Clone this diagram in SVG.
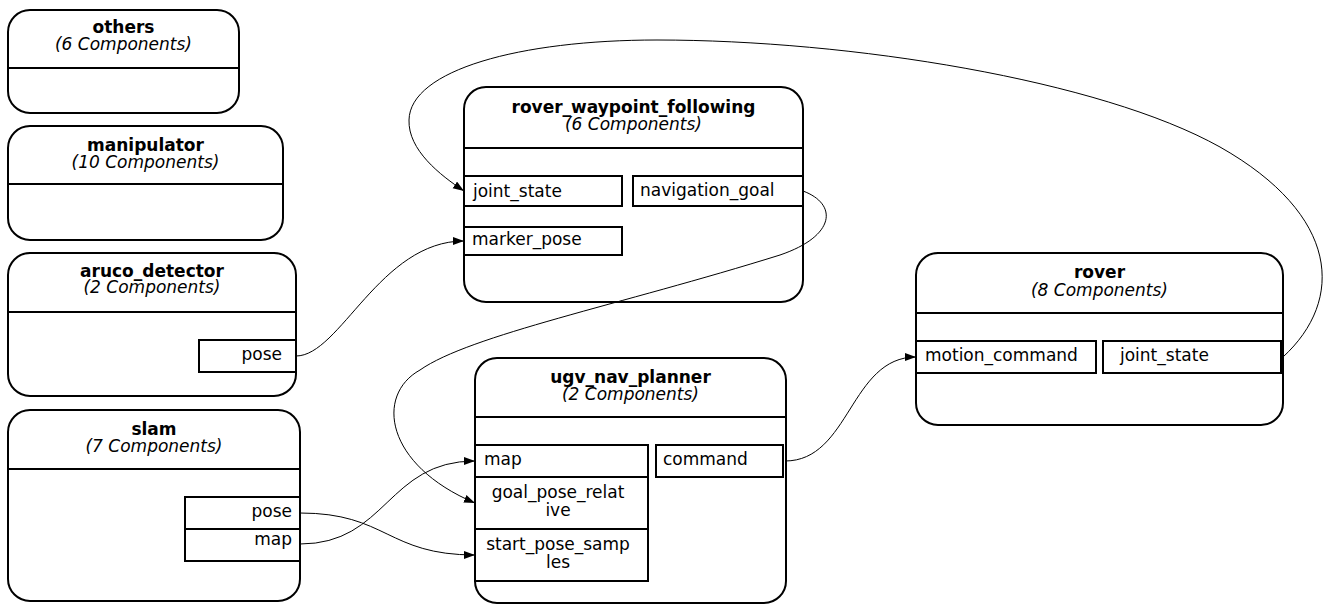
<svg xmlns="http://www.w3.org/2000/svg" width="1324" height="604" viewBox="0 0 1324 604">
  <style>
    .node { fill: #ffffff; stroke: #000000; stroke-width: 2; }
    .rule { stroke: #000000; stroke-width: 2; fill: none; }
    .port { fill: #ffffff; stroke: #000000; stroke-width: 2; }
    text { font-family: "DejaVu Sans", "Liberation Sans", sans-serif; font-size: 17px; fill: #000000; }
    .title { font-weight: bold; text-anchor: middle; }
    .sub { font-style: italic; text-anchor: middle; }
    .r { text-anchor: end; }
    .m { text-anchor: middle; }
    .edge { fill: none; stroke: #000000; stroke-width: 1; marker-end: url(#arrow); }
  </style>
  <defs>
    <marker id="arrow" markerUnits="userSpaceOnUse" markerWidth="12" markerHeight="9" refX="11" refY="4" orient="auto">
      <path d="M0,0 L11,4 L0,8 z" fill="#000000"/>
    </marker>
  </defs>
  <rect width="1324" height="604" fill="#ffffff"/>

  <g id="others">
    <rect class="node" x="8" y="10" width="231" height="103" rx="22"/>
    <line class="rule" x1="8" y1="68" x2="239" y2="68"/>
    <text class="title" x="123.5" y="33">others</text>
    <text class="sub" x="123.5" y="50">(6 Components)</text>
  </g>

  <g id="manipulator">
    <rect class="node" x="8" y="126" width="275" height="114" rx="22"/>
    <line class="rule" x1="8" y1="184" x2="283" y2="184"/>
    <text class="title" x="145.5" y="151">manipulator</text>
    <text class="sub" x="145.5" y="168">(10 Components)</text>
  </g>

  <g id="aruco_detector">
    <rect class="node" x="8" y="253" width="288" height="143" rx="22"/>
    <line class="rule" x1="8" y1="312" x2="296" y2="312"/>
    <text class="title" x="152" y="277">aruco_detector</text>
    <text class="sub" x="152" y="293">(2 Components)</text>
    <rect class="port" x="199" y="340" width="97" height="32"/>
    <text class="r" x="282" y="360">pose</text>
  </g>

  <g id="slam">
    <rect class="node" x="8" y="410" width="292" height="191" rx="22"/>
    <line class="rule" x1="8" y1="469" x2="300" y2="469"/>
    <text class="title" x="154" y="435">slam</text>
    <text class="sub" x="154" y="452">(7 Components)</text>
    <rect class="port" x="185" y="497" width="115" height="32"/>
    <text class="r" x="292" y="517">pose</text>
    <rect class="port" x="185" y="529" width="115" height="32"/>
    <text class="r" x="292" y="545">map</text>
  </g>

  <g id="rover_waypoint_following">
    <rect class="node" x="464" y="87" width="339" height="215" rx="22"/>
    <line class="rule" x1="464" y1="148" x2="803" y2="148"/>
    <text class="title" x="633.5" y="113">rover_waypoint_following</text>
    <text class="sub" x="633.5" y="130">(6 Components)</text>
    <rect class="port" x="464" y="176" width="158" height="30"/>
    <text x="473" y="197">joint_state</text>
    <rect class="port" x="633" y="176" width="170" height="30"/>
    <text x="640" y="196">navigation_goal</text>
    <rect class="port" x="464" y="227" width="158" height="28"/>
    <text x="472" y="245">marker_pose</text>
  </g>

  <g id="ugv_nav_planner">
    <rect class="node" x="475" y="358" width="311" height="245" rx="22"/>
    <line class="rule" x1="475" y1="417" x2="786" y2="417"/>
    <text class="title" x="630.5" y="383">ugv_nav_planner</text>
    <text class="sub" x="630.5" y="400">(2 Components)</text>
    <rect class="port" x="475" y="445" width="173" height="32"/>
    <text x="484" y="465">map</text>
    <rect class="port" x="475" y="477" width="173" height="52"/>
    <text class="m" x="558" y="498">goal_pose_relat</text>
    <text class="m" x="558" y="516">ive</text>
    <rect class="port" x="475" y="529" width="173" height="52"/>
    <text class="m" x="558" y="550">start_pose_samp</text>
    <text class="m" x="558" y="568">les</text>
    <rect class="port" x="656" y="445" width="127" height="32"/>
    <text x="663" y="465">command</text>
  </g>

  <g id="rover">
    <rect class="node" x="916" y="253" width="367" height="172" rx="22"/>
    <line class="rule" x1="916" y1="313" x2="1283" y2="313"/>
    <text class="title" x="1099.5" y="278">rover</text>
    <text class="sub" x="1099.5" y="296">(8 Components)</text>
    <rect class="port" x="916" y="341" width="180" height="32"/>
    <text x="925" y="361">motion_command</text>
    <rect class="port" x="1103" y="341" width="178" height="32"/>
    <text x="1120" y="361">joint_state</text>
  </g>

  <!-- connectors, drawn over the nodes -->
  <g id="edges">
    <path class="edge" d="M296,356 C340,356 380,241 464,241"/>
    <path class="edge" d="M803,191 C838,204 836,236 780,255 C620,305 470,335 420,370 C375,395 385,465 475,503"/>
    <path class="edge" d="M300,513 C387,513 387,555 475,555"/>
    <path class="edge" d="M300,544 C387,544 387,461 475,461"/>
    <path class="edge" d="M785,461 C850,461 850,357 916,357"/>
    <path class="edge" d="M1283,357 C1345,300 1340,215 1220,147 C1100,80 850,40 657,40 C520,40 410,70 409,120 C408,150 440,175 464,191"/>
  </g>
</svg>
